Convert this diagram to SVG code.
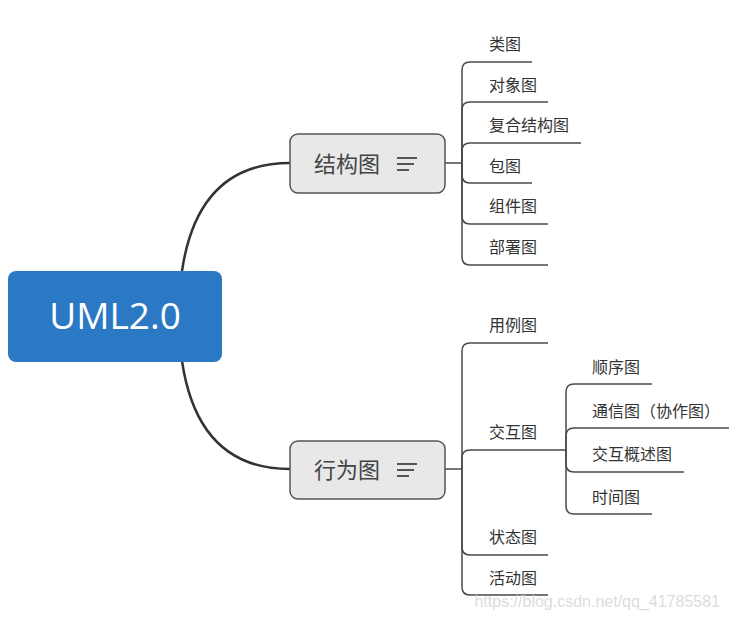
<svg xmlns="http://www.w3.org/2000/svg" width="729" height="619" viewBox="0 0 729 619">
<style>
.main{fill:none;stroke:#333;stroke-width:2.5}
.br{fill:none;stroke:#4a4a4a;stroke-width:1.5}
.node{fill:#e8e8e8;stroke:#555;stroke-width:1.5}
.ntext{font-family:"Noto Sans CJK SC",sans-serif;font-size:22px;fill:#444}
.lbl{font-family:"Noto Sans CJK SC",sans-serif;font-size:16px;fill:#333}
.icon{stroke:#555;stroke-width:2}
</style>
<rect width="729" height="619" fill="#fff"/>
<g id="connectors">
<path class="main" d="M182,271 Q198,163 290,163"/>
<path class="main" d="M182,361 Q198,469 290,469"/>
<path class="br" d="M445,163 H462"/>
<path class="br" d="M462,163 V70 Q462,62 470,62 H532"/>
<path class="br" d="M462,163 V110 Q462,102 470,102 H548"/>
<path class="br" d="M462,163 V151 Q462,143 470,143 H581"/>
<path class="br" d="M462,163 V175 Q462,183 470,183 H532"/>
<path class="br" d="M462,163 V216 Q462,224 470,224 H548"/>
<path class="br" d="M462,163 V257 Q462,265 470,265 H548"/>
<path class="br" d="M445,469 H462"/>
<path class="br" d="M462,469 V351 Q462,343 470,343 H548"/>
<path class="br" d="M462,469 V458 Q462,450 470,450 H566"/>
<path class="br" d="M462,469 V547 Q462,555 470,555 H548"/>
<path class="br" d="M462,469 V587 Q462,595 470,595 H548"/>
<path class="br" d="M566,450 V392 Q566,384 574,384 H652"/>
<path class="br" d="M566,450 V436 Q566,428 574,428 H729"/>
<path class="br" d="M566,450 V464 Q566,472 574,472 H684"/>
<path class="br" d="M566,450 V506 Q566,514 574,514 H652"/>
</g>
<g id="root">
<rect x="8" y="271" width="214" height="91" rx="8" fill="#2b78c4"/>
<text x="115" y="329" text-anchor="middle" font-family="'Open Sans',sans-serif" font-size="37" fill="#fff">UML2.0</text>
</g>
<g id="n-struct">
<rect class="node" x="290" y="134" width="155" height="59" rx="8"/>
<text class="ntext" x="314" y="172">结构图</text>
<line class="icon" x1="397" y1="158" x2="417" y2="158"/>
<line class="icon" x1="397" y1="164" x2="414" y2="164"/>
<line class="icon" x1="397" y1="170" x2="409" y2="170"/>
</g>
<g id="n-behav">
<rect class="node" x="290" y="441" width="155" height="58" rx="8"/>
<text class="ntext" x="314" y="478">行为图</text>
<line class="icon" x1="397" y1="464" x2="417" y2="464"/>
<line class="icon" x1="397" y1="470" x2="414" y2="470"/>
<line class="icon" x1="397" y1="476" x2="409" y2="476"/>
</g>
<g id="c1"><text class="lbl" x="489" y="50">类图</text></g>
<g id="c2"><text class="lbl" x="489" y="91">对象图</text></g>
<g id="c3"><text class="lbl" x="489" y="131">复合结构图</text></g>
<g id="c4"><text class="lbl" x="489" y="172">包图</text></g>
<g id="c5"><text class="lbl" x="489" y="212">组件图</text></g>
<g id="c6"><text class="lbl" x="489" y="253">部署图</text></g>
<g id="c7"><text class="lbl" x="489" y="331">用例图</text></g>
<g id="c8"><text class="lbl" x="489" y="438">交互图</text></g>
<g id="c9"><text class="lbl" x="489" y="543">状态图</text></g>
<g id="c10"><text class="lbl" x="489" y="584">活动图</text></g>
<g id="s1"><text class="lbl" x="592" y="373">顺序图</text></g>
<g id="s2"><text class="lbl" x="592" y="417">通信图（协作图）</text></g>
<g id="s3"><text class="lbl" x="592" y="460">交互概述图</text></g>
<g id="s4"><text class="lbl" x="592" y="503">时间图</text></g>
<text x="720" y="607" text-anchor="end" font-family="'Liberation Sans',Arial,sans-serif" font-size="16" fill="#dcdcdc">https://blog.csdn.net/qq_41785581</text>
</svg>
